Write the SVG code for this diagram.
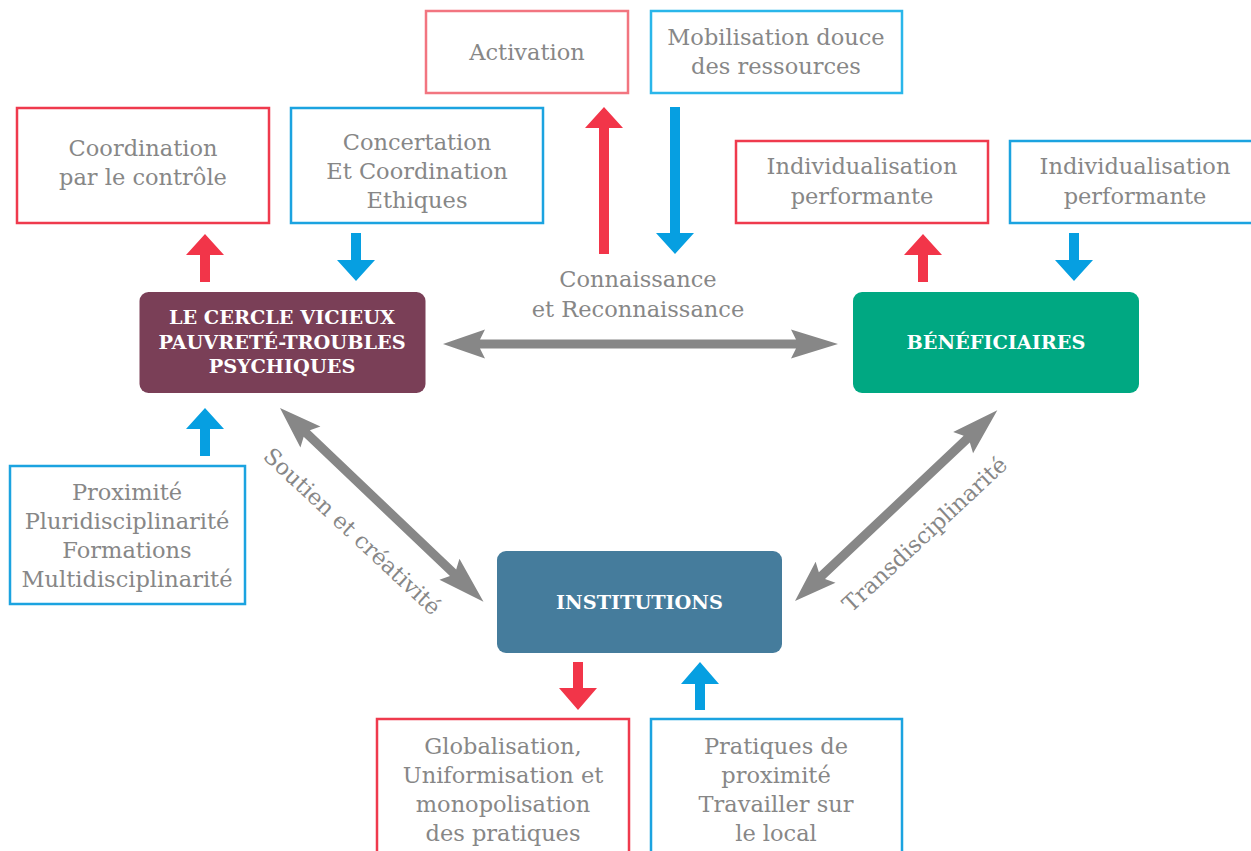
<svg xmlns="http://www.w3.org/2000/svg" width="1251" height="851" viewBox="0 0 1251 851">
<style>
.t{font-family:"DejaVu Serif","Liberation Serif",serif;font-size:22.5px;fill:#878787;text-anchor:middle}
.b{font-family:"DejaVu Serif","Liberation Serif",serif;font-size:19.3px;font-weight:bold;fill:#ffffff;text-anchor:middle}
.rb{fill:#ffffff;stroke:#ef3a4d;stroke-width:2.5}
.rl{fill:#ffffff;stroke:#f27580;stroke-width:2.5}
.bb{fill:#ffffff;stroke:#1ba3e0;stroke-width:2.5}
.bl{fill:#ffffff;stroke:#2ab6ea;stroke-width:2.5}
.ra{fill:#f23549}
.ba{fill:#069fe1}
.ga{fill:#878787}
</style>
<rect width="1251" height="851" fill="#ffffff"/>
<g id="connectors">
  <path class="ga" d="M0,0 L42,-14.5 L37,-4.5 L353,-4.5 L348,-14.5 L395,0 L348,14.5 L353,4.5 L37,4.5 L42,14.5 Z" transform="translate(443,344)"/>
  <path class="ga" d="M0,0 L42,-14.5 L37,-4.5 L239,-4.5 L234,-14.5 L281,0 L234,14.5 L239,4.5 L37,4.5 L42,14.5 Z" transform="translate(280,408) rotate(43.6)"/>
  <path class="ga" d="M0,0 L42,-14.5 L37,-4.5 L236,-4.5 L231,-14.5 L278,0 L231,14.5 L236,4.5 L37,4.5 L42,14.5 Z" transform="translate(795,601) rotate(-43.3)"/>
  <path class="ra" d="M205,234 L224,255 L210,255 L210,282 L200,282 L200,255 L186,255 Z"/>
  <path class="ba" d="M356,281 L375,260 L361,260 L361,233 L351,233 L351,260 L337,260 Z"/>
  <path class="ra" d="M604,107 L623,128 L609,128 L609,254 L599,254 L599,128 L585,128 Z"/>
  <path class="ba" d="M675,254 L694,233 L680,233 L680,107 L670,107 L670,233 L656,233 Z"/>
  <path class="ra" d="M923,234 L942,255 L928,255 L928,282 L918,282 L918,255 L904,255 Z"/>
  <path class="ba" d="M1074,281 L1093,260 L1079,260 L1079,233 L1069,233 L1069,260 L1055,260 Z"/>
  <path class="ba" d="M205,408 L224,429 L210,429 L210,456 L200,456 L200,429 L186,429 Z"/>
  <path class="ra" d="M578,710 L597,688 L583,688 L583,662 L573,662 L573,688 L559,688 Z"/>
  <path class="ba" d="M700,662 L719,684 L705,684 L705,710 L695,710 L695,684 L681,684 Z"/>
  <text class="t" x="638" y="287">Connaissance</text>
  <text class="t" x="638" y="317">et Reconnaissance</text>
  <text class="t" transform="translate(347,537) rotate(43)" x="0" y="0" font-size="22">Soutien et créativité</text>
  <text class="t" transform="translate(930,540) rotate(-43)" x="0" y="0">Transdisciplinarité</text>
</g>
<g id="cercle">
  <rect x="139.5" y="292" width="286" height="101" rx="9" fill="#7a3f57"/>
  <text class="b" x="282" y="324">LE CERCLE VICIEUX</text>
  <text class="b" x="282" y="348.5">PAUVRETÉ-TROUBLES</text>
  <text class="b" x="282" y="373">PSYCHIQUES</text>
</g>
<g id="beneficiaires">
  <rect x="853" y="292" width="286" height="101" rx="9" fill="#00a882"/>
  <text class="b" x="996" y="349">BÉNÉFICIAIRES</text>
</g>
<g id="institutions">
  <rect x="497" y="551" width="285" height="102" rx="9" fill="#457c9c"/>
  <text class="b" x="639.5" y="609">INSTITUTIONS</text>
</g>
<g id="coordination">
  <rect class="rb" x="17" y="108" width="252" height="115"/>
  <text class="t" x="143" y="156">Coordination</text>
  <text class="t" x="143" y="185">par le contrôle</text>
</g>
<g id="concertation">
  <rect class="bb" x="291" y="108" width="252" height="115"/>
  <text class="t" x="417" y="150">Concertation</text>
  <text class="t" x="417" y="179">Et Coordination</text>
  <text class="t" x="417" y="208">Ethiques</text>
</g>
<g id="activation">
  <rect class="rl" x="426" y="11" width="202" height="82"/>
  <text class="t" x="527" y="60">Activation</text>
</g>
<g id="mobilisation">
  <rect class="bl" x="651" y="11" width="251" height="82"/>
  <text class="t" x="776" y="45">Mobilisation douce</text>
  <text class="t" x="776" y="74">des ressources</text>
</g>
<g id="indiv-rouge">
  <rect class="rb" x="736" y="141" width="252" height="82"/>
  <text class="t" x="862" y="174">Individualisation</text>
  <text class="t" x="862" y="204">performante</text>
</g>
<g id="indiv-bleu">
  <rect class="bb" x="1010" y="141" width="252" height="82"/>
  <text class="t" x="1135" y="174">Individualisation</text>
  <text class="t" x="1135" y="204">performante</text>
</g>
<g id="proximite">
  <rect class="bb" x="10" y="466" width="235" height="138"/>
  <text class="t" x="127" y="500">Proximité</text>
  <text class="t" x="127" y="529">Pluridisciplinarité</text>
  <text class="t" x="127" y="558">Formations</text>
  <text class="t" x="127" y="587">Multidisciplinarité</text>
</g>
<g id="globalisation">
  <rect class="rb" x="377" y="719" width="252" height="140"/>
  <text class="t" x="503" y="754">Globalisation,</text>
  <text class="t" x="503" y="783">Uniformisation et</text>
  <text class="t" x="503" y="812">monopolisation</text>
  <text class="t" x="503" y="841">des pratiques</text>
</g>
<g id="pratiques">
  <rect class="bb" x="651" y="719" width="251" height="140"/>
  <text class="t" x="776" y="754">Pratiques de</text>
  <text class="t" x="776" y="783">proximité</text>
  <text class="t" x="776" y="812">Travailler sur</text>
  <text class="t" x="776" y="841">le local</text>
</g>
</svg>
